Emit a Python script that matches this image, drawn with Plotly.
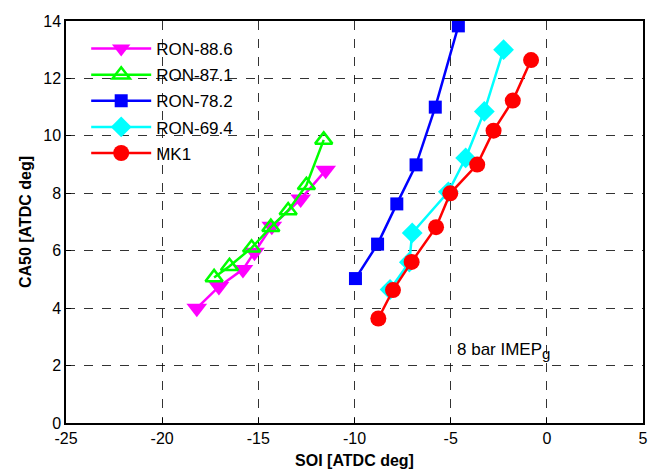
import plotly.graph_objects as go

# Data
ron886_x = [-18.2, -17.05, -15.8, -15.2, -14.3, -12.8, -11.5]
ron886_y = [4.0, 4.75, 5.35, 5.95, 6.85, 7.8, 8.8]

ron871_x = [-17.3, -16.5, -15.35, -14.35, -13.45, -12.5, -11.6]
ron871_y = [5.07, 5.46, 6.1, 6.82, 7.4, 8.28, 9.86]

ron782_x = [-9.95, -8.8, -7.8, -6.8, -5.8, -4.6]
ron782_y = [5.03, 6.23, 7.63, 8.99, 11.0, 13.83]

ron694_x = [-8.15, -7.15, -7.0, -5.12, -4.22, -3.25, -2.25]
ron694_y = [4.65, 5.6, 6.62, 8.05, 9.23, 10.85, 13.0]

mk1_x = [-8.76, -8.0, -7.03, -5.76, -5.02, -3.62, -2.77, -1.77, -0.82]
mk1_y = [3.64, 4.63, 5.61, 6.82, 8.0, 9.0, 10.18, 11.23, 12.64]

x_ticks = [-25, -20, -15, -10, -5, 0, 5]
x_tick_labels = ["-25", "-20", "-15", "-10", "-5", "0", "5"]
y_ticks = [0, 2, 4, 6, 8, 10, 12, 14]
y_tick_labels = ["0", "2", "4", "6", "8", "10", "12", "14"]

names = ["RON-88.6", "RON-87.1", "RON-78.2", "RON-69.4", "MK1"]
colors = ["#ff00ff", "#00ff00", "#0000ff", "#00ffff", "#ff0000"]
symbols = ["triangle-down", "triangle-up-open", "square", "diamond", "circle"]
sizes = [18, 15, 13, 16, 16]

xs = [ron886_x, ron871_x, ron782_x, ron694_x, mk1_x]
ys = [ron886_y, ron871_y, ron782_y, ron694_y, mk1_y]

font_family = "Liberation Sans, Arial, sans-serif"

fig = go.Figure()
for i in range(5):
    fig.add_trace(go.Scatter(
        x=xs[i], y=ys[i], name=names[i], mode="lines+markers",
        legendgroup=names[i],
        line=dict(color=colors[i], width=2.5),
        marker=dict(symbol=symbols[i], size=sizes[i], color=colors[i],
                    line=dict(color=colors[i], width=2.5 if i == 1 else 0)),
    ))

axis_common = dict(
    showline=True, linecolor="black", linewidth=1.5, mirror=True,
    ticks="inside", ticklen=5, tickcolor="black",
    showgrid=True, gridcolor="rgba(0,0,0,0.8)", griddash="dash", gridwidth=1,
    zeroline=False,
    tickfont=dict(family=font_family, size=16, color="black"),
)

fig.update_xaxes(range=[-25, 5], tickmode="array", tickvals=x_ticks, ticktext=x_tick_labels,
                 **axis_common,
                 title=dict(text="<b>SOI [ATDC deg]</b>", standoff=9,
                            font=dict(family=font_family, size=16, color="black")))
fig.update_yaxes(range=[0, 14], tickmode="array", tickvals=y_ticks, ticktext=y_tick_labels,
                 **axis_common,
                 title=dict(text="<b>CA50 [ATDC deg]</b>", standoff=8,
                            font=dict(family=font_family, size=16, color="black")))

fig.add_annotation(x=-4.75, y=2.5, xref="x", yref="y",
                   text="8 bar IMEP<sub><span style='font-size:15px'>g</span></sub>",
                   showarrow=False, xanchor="left", yanchor="middle",
                   font=dict(family=font_family, size=17, color="black"))

fig.update_layout(
    width=654, height=473,
    margin=dict(l=66, r=6, t=21, b=49),
    plot_bgcolor="white", paper_bgcolor="white",
    legend=dict(x=0.035, y=0.975, xanchor="left", yanchor="top",
                bgcolor="rgba(0,0,0,0)", borderwidth=0,
                font=dict(family=font_family, size=17, color="black"),
                itemwidth=60, tracegroupgap=1),
    showlegend=True,
)

fig.write_html("out.html")
